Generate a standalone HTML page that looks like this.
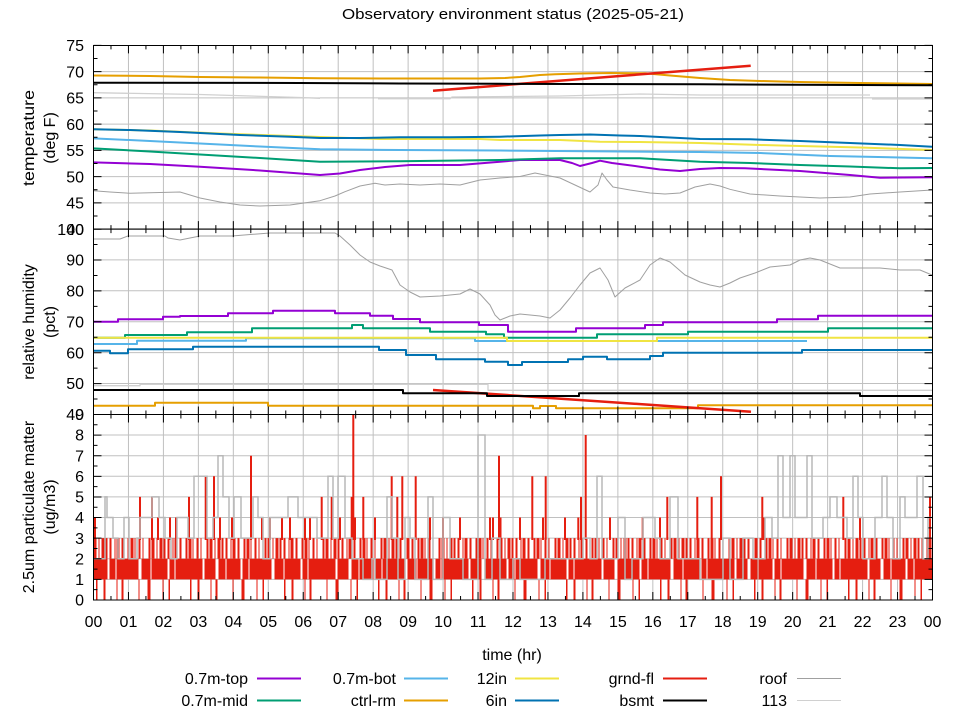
<!DOCTYPE html>
<html>
<head>
<meta charset="utf-8">
<style>
  html,body{margin:0;padding:0;background:#fff;}
  svg{display:block;}
  text{font-family:"Liberation Sans","DejaVu Sans",sans-serif;fill:#000;}
</style>
</head>
<body>
<svg width="960" height="720" viewBox="0 0 960 720" xmlns="http://www.w3.org/2000/svg">
<rect x="0" y="0" width="960" height="720" fill="#fff"/>
<defs>
  <clipPath id="cTop"><rect x="93.5" y="45.4" width="839" height="183.7"/></clipPath>
  <clipPath id="cMid"><rect x="93.5" y="229.1" width="839" height="185.4"/></clipPath>
  <clipPath id="cBot"><rect x="93.5" y="414.5" width="839" height="185.5"/></clipPath>
</defs>

<!-- title -->
<text x="513" y="19" font-size="15" text-anchor="middle" textLength="342" lengthAdjust="spacingAndGlyphs">Observatory environment status (2025-05-21)</text>

<!-- ===== GRID ===== -->
<g stroke="#c0c0c0" fill="none">
  <line x1="127.96" y1="137.25" x2="930" y2="137.25" stroke-width="183.7" stroke-dasharray="1 33.958"/>
  <line x1="127.96" y1="321.8" x2="930" y2="321.8" stroke-width="185.4" stroke-dasharray="1 33.958"/>
  <line x1="127.96" y1="507.25" x2="930" y2="507.25" stroke-width="185.5" stroke-dasharray="1 33.958"/>
  <path stroke-width="1" d="M93.5 71.65H932.5M93.5 97.9H932.5M93.5 124.15H932.5M93.5 150.4H932.5M93.5 176.65H932.5M93.5 202.9H932.5"/>
  <path stroke-width="1" d="M93.5 259.9H932.5M93.5 290.8H932.5M93.5 321.7H932.5M93.5 352.6H932.5M93.5 383.5H932.5"/>
  <path stroke-width="1" d="M93.5 435H932.5M93.5 455.7H932.5M93.5 476.3H932.5M93.5 496.9H932.5M93.5 517.5H932.5M93.5 538.1H932.5M93.5 558.8H932.5M93.5 579.4H932.5"/>
</g>

<!-- ===== TOP PANEL DATA ===== -->
<g clip-path="url(#cTop)" fill="none" stroke-linejoin="round">
  <path stroke="#9400d3" stroke-width="2" d="M93 162.3L150 164L200 166.7L260 170.5L320 175L340 173.5L360 170L385 167L410 165L460 165L500 161.7L520 160L560 160L572 163L580 166L592 163L600 160.7L612 163L640 166.7L660 169.5L680 171L700 169L720 168L745 168.3L800 171L850 175L880 177.7L932 177.3"/>
  <path stroke="#009e73" stroke-width="2" d="M93 148.3L150 151.5L200 154.5L260 158L320 161.7L400 161.3L500 160L560 158.3L640 158.3L700 161.7L750 163L800 165L850 166.5L900 168.3L932 168"/>
  <path stroke="#56b4e9" stroke-width="2" d="M93 138.3L150 141L200 143.5L260 146.5L320 149.3L400 150L500 150.5L650 151.7L700 152L760 153L830 156L900 157.5L932 158.3"/>
  <path stroke="#e69f00" stroke-width="2" d="M93 75.5L150 76L200 77L260 77.5L320 78.3L400 78.5L480 78.5L505 78L520 77L540 75L555 74.3L580 73.5L610 73L645 73.3L670 75.5L700 78L730 80L760 81L800 82L860 83L932 84"/>
  <path stroke="#f0e442" stroke-width="2" d="M93 129.3L150 130.5L220 133.5L320 137L380 139L480 139L500 140L560 140L600 141.7L640 142L700 143L760 145L800 146L860 147.5L932 150"/>
  <path stroke="#0072b2" stroke-width="2" d="M93 129.3L130 130L180 132L240 135L290 136.8L320 138L360 138L400 137.3L450 137.3L500 136.7L540 135.5L560 135L590 134.5L620 135.5L640 136L670 137.5L700 139L750 139.3L800 141L850 143L900 145L932 146.7"/>
  <path stroke="#e51e10" stroke-width="2.5" d="M433 90.7L750.7 65.7"/>
  <path stroke="#000" stroke-width="2" d="M93 82.7L300 83L400 83.5L500 83.8L700 84.3L932 85.3"/>
  <path stroke="#a0a0a0" stroke-width="1" d="M93 190.7L110 192L130 193.3L160 192.5L180 192L200 198L220 202L240 205L260 206L290 205L320 200.7L335 196L345 191.7L360 186L375 183.3L385 185L400 184L420 185L440 184L460 185L480 180L500 178L520 176.5L535 173L550 176L560 178L575 185L590 192L598 185L602 173L607 180L613 187L630 190L650 193L665 194L680 193L695 187L710 184L720 186L730 189.3L750 194L780 196L820 198L850 197L870 194L900 192L932 190"/>
  <path stroke="#d0d0d0" stroke-width="1.3" d="M93 92.7L200 94.5L300 97.5L320 98.3M378 98.7L450 98.7L452 97L560 96L640 94L700 95L870 95M872 99L932 99"/>
</g>

<!-- ===== MIDDLE PANEL DATA ===== -->
<g clip-path="url(#cMid)" fill="none" stroke-linejoin="round">
  <path stroke="#9400d3" stroke-width="2" d="M93 321.7H118V319.3H163V316.7H180V316H228V313.3H273V310.7H335V313.3H370V315.7H393V319H420V322.3H479V325H508V331.7H576V328.3H645V325H663V322.3H777V319.3H818V315.7H932"/>
  <path stroke="#009e73" stroke-width="2" d="M93 337.7H125V335H187V332.3H252V328.3H352V325H363V328.3H430V331.7H486V334.3H504V337.7H597V334.3H688V331.7H828V328.3H932"/>
  <path stroke="#56b4e9" stroke-width="2" d="M93 344H137V340.7H246V338.3H475V341H807"/>
  <path stroke="#e69f00" stroke-width="2" d="M93 405.7H155V402.7H268V405.7H533V408.3H540V406H556V408.3H698V405.3H932"/>
  <path stroke="#f0e442" stroke-width="2" d="M93 337.7H507V341H657V337.7H932"/>
  <path stroke="#0072b2" stroke-width="2" d="M93 350.7H110V353.3H128V349.3H193V346.7H379V350H406V355H436V359.3H485V361.7H508V365H522V362H568V359.3H583V356.7H607V359.3H650V356H663V352.7H802V350H932"/>
  <path stroke="#e51e10" stroke-width="2.5" d="M433 390L751 411.7"/>
  <path stroke="#000" stroke-width="2" d="M93 390H403V393.3H487V396H579V393.3H860V396H932"/>
  <path stroke="#a0a0a0" stroke-width="1" d="M93 239L120 239L128 236L165 236L168 238L180 240L195 237L200 236L232 236L270 233L335 233L340 236L350 245L360 255L370 262L380 266L392 270L400 285L410 292L420 297L440 296L460 294L470 289L480 294L490 305L495 315L500 320L510 316L520 314L540 316L550 318L560 310L570 298L580 285L590 273L600 268L608 280L615 297L625 288L640 280L650 265L660 258L670 262L685 275L700 282L710 285L720 287L730 283L740 278L755 273L770 267L790 265L800 260L810 258L820 260L840 268L880 268L900 270L920 270L932 275"/>
  <path stroke="#d0d0d0" stroke-width="1.3" d="M93 385.7H140V384.3H488V390.3H932"/>
</g>

<!-- ===== BOTTOM PANEL DATA ===== -->
<g clip-path="url(#cBot)" fill="none">
  <line x1="93.5" y1="569.1" x2="932.5" y2="569.1" stroke="#e51e10" stroke-width="20.6" stroke-dasharray="14 2 6 1 22 3 9 1 16 2 5 1 27 2 11 3 7 1"/>
  <line x1="93.5" y1="548.45" x2="932.5" y2="548.45" stroke="#e51e10" stroke-width="20.6" stroke-dasharray="3 2 1 2 3 1 2 2 2 3 1 1 3 2 2 4 2 1 3 1 1 3 2 2 1 5 2 1"/>
  <line x1="96" y1="589.7" x2="932.5" y2="589.7" stroke="#e51e10" stroke-width="20.6" stroke-dasharray="1.5 6 2 11 1 4 2 15 1 8 3 12 1 5 1.5 20"/>
  <path stroke="#e51e10" stroke-width="2" d="M95 540V517.5M140 540V496.9M152 540V496.9M158 540V517.5M170 540V517.5M176 540V517.5M189 540V496.9M205.7 540V476.3M214 540V476.3M220 540V517.5M232 540V517.5M251 540V455.7M262 540V517.5M270 540V517.5M282 540V517.5M290 540V517.5M305 540V517.5M310 540V517.5M321.7 540V496.9M331.7 540V496.9M340 540V517.5M351.7 540V496.9M353.3 540V414.5M355 540V517.5M363.3 540V496.9M375 540V517.5M391.7 540V476.3M397.3 540V496.9M402.3 540V476.3M415.7 540V476.3M430 540V517.5M443 540V517.5M460 540V517.5M490 540V517.5M493 540V517.5M499 540V455.7M500.5 540V517.5M520 540V517.5M532.3 540V476.3M543 540V517.5M545.7 540V476.3M565 540V517.5M578.3 540V517.5M581 540V496.9M585.7 540V435M610 540V517.5M642.7 540V517.5M660 540V517.5M667.3 540V496.9M697.3 540V496.9M711.7 540V496.9M721 540V476.3M762.3 540V496.9M764 540V517.5M843.3 540V496.9M860 540V517.5M930 540V496.9"/>
  <path stroke="#b8b8b8" stroke-width="1.5" d="M93 558.8H105V496.9H107V517.5H113V538.1H118V558.8H124V517.5H129V558.8H137V538.1H140V517.5H152V496.9H159V517.5H165V538.1H171V558.8H177V517.5H188V538.1H194V476.3H207V538.1H213V517.5H218V455.7H223V496.9H229V538.1H234V496.9H241V538.1H253V496.9H258V517.5H263V558.8H270V517.5H288V496.9H298V517.5H317V538.1H328V476.3H333V538.1H338V476.3H345V538.1H352V558.8H363V579.4H372V558.8H375V579.4H387V496.9H392V538.1H398V579.4H405V517.5H410V538.1H415V579.4H428V496.9H433V579.4H443V517.5H450V558.8H463V579.4H478V435H485V579.4H492V538.1H500V579.4H513V558.8H520V579.4H545V558.8H583V538.1H590V558.8H597V476.3H602V558.8H618V517.5H625V579.4H632V558.8H643V517.5H655V538.1H660V558.8H670V496.9H678V558.8H700V579.4H723V538.1H730V579.4H743V538.1H753V558.8H765V517.5H772V538.1H778V455.7H783V517.5H790V455.7H795V517.5H807V455.7H812V538.1H823V517.5H830V496.9H837V517.5H847V538.1H853V476.3H858V517.5H863V558.8H875V517.5H882V476.3H887V517.5H893V558.8H900V496.9H905V517.5H917V476.3H923V558.8H928V517.5H932"/>
</g>

<!-- ===== TICKS ===== -->
<g stroke="#000" fill="none">
  <line x1="93" y1="49.4" x2="933" y2="49.4" stroke-width="8" stroke-dasharray="1 33.958"/>
  <line x1="93" y1="225.1" x2="933" y2="225.1" stroke-width="8" stroke-dasharray="1 33.958"/>
  <line x1="93" y1="233.1" x2="933" y2="233.1" stroke-width="8" stroke-dasharray="1 33.958"/>
  <line x1="93" y1="410.5" x2="933" y2="410.5" stroke-width="8" stroke-dasharray="1 33.958"/>
  <line x1="93" y1="418.5" x2="933" y2="418.5" stroke-width="8" stroke-dasharray="1 33.958"/>
  <line x1="93" y1="596" x2="933" y2="596" stroke-width="8" stroke-dasharray="1 33.958"/>
  <line x1="110.48" y1="47.4" x2="933" y2="47.4" stroke-width="4" stroke-dasharray="1 33.958"/>
  <line x1="110.48" y1="227.1" x2="933" y2="227.1" stroke-width="4" stroke-dasharray="1 33.958"/>
  <line x1="110.48" y1="231.1" x2="933" y2="231.1" stroke-width="4" stroke-dasharray="1 33.958"/>
  <line x1="110.48" y1="412.5" x2="933" y2="412.5" stroke-width="4" stroke-dasharray="1 33.958"/>
  <line x1="110.48" y1="416.5" x2="933" y2="416.5" stroke-width="4" stroke-dasharray="1 33.958"/>
  <line x1="110.48" y1="598" x2="933" y2="598" stroke-width="4" stroke-dasharray="1 33.958"/>
  <line x1="97.5" y1="44.9" x2="97.5" y2="230" stroke-width="8" stroke-dasharray="1 25.25"/>
  <line x1="928.5" y1="44.9" x2="928.5" y2="230" stroke-width="8" stroke-dasharray="1 25.25"/>
  <line x1="95.5" y1="58.03" x2="95.5" y2="229" stroke-width="4" stroke-dasharray="1 25.25"/>
  <line x1="930.5" y1="58.03" x2="930.5" y2="229" stroke-width="4" stroke-dasharray="1 25.25"/>
  <line x1="97.5" y1="228.6" x2="97.5" y2="415" stroke-width="8" stroke-dasharray="1 29.9"/>
  <line x1="928.5" y1="228.6" x2="928.5" y2="415" stroke-width="8" stroke-dasharray="1 29.9"/>
  <line x1="95.5" y1="244.05" x2="95.5" y2="414" stroke-width="4" stroke-dasharray="1 29.9"/>
  <line x1="930.5" y1="244.05" x2="930.5" y2="414" stroke-width="4" stroke-dasharray="1 29.9"/>
  <line x1="97.5" y1="414" x2="97.5" y2="601" stroke-width="8" stroke-dasharray="1 19.61"/>
  <line x1="928.5" y1="414" x2="928.5" y2="601" stroke-width="8" stroke-dasharray="1 19.61"/>
  <line x1="95.5" y1="424.3" x2="95.5" y2="600" stroke-width="4" stroke-dasharray="1 19.61"/>
  <line x1="930.5" y1="424.3" x2="930.5" y2="600" stroke-width="4" stroke-dasharray="1 19.61"/>
  <rect x="93.5" y="45.5" width="839" height="183.6" stroke-width="1"/>
  <rect x="93.5" y="229.1" width="839" height="185.4" stroke-width="1"/>
  <rect x="93.5" y="414.5" width="839" height="185.5" stroke-width="1"/>
</g>

<!-- ===== Y TICK LABELS ===== -->
<g font-size="16" text-anchor="end">
  <text x="84" y="51.1">75</text>
  <text x="84" y="77.3">70</text>
  <text x="84" y="103.6">65</text>
  <text x="84" y="129.8">60</text>
  <text x="84" y="156.1">55</text>
  <text x="84" y="182.3">50</text>
  <text x="84" y="208.6">45</text>
  <text x="84" y="234.8">40</text>
  <text x="84" y="234.8">100</text>
  <text x="84" y="265.6">90</text>
  <text x="84" y="296.5">80</text>
  <text x="84" y="327.4">70</text>
  <text x="84" y="358.3">60</text>
  <text x="84" y="389.2">50</text>
  <text x="84" y="420.2">40</text>
  <text x="84" y="420.2">9</text>
  <text x="84" y="440.7">8</text>
  <text x="84" y="461.4">7</text>
  <text x="84" y="482">6</text>
  <text x="84" y="502.6">5</text>
  <text x="84" y="523.2">4</text>
  <text x="84" y="543.8">3</text>
  <text x="84" y="564.5">2</text>
  <text x="84" y="585.1">1</text>
  <text x="84" y="605.7">0</text>
</g>

<!-- ===== X TICK LABELS ===== -->
<g font-size="16" text-anchor="middle">
  <text x="93.5" y="627">00</text>
  <text x="128.46" y="627">01</text>
  <text x="163.42" y="627">02</text>
  <text x="198.37" y="627">03</text>
  <text x="233.33" y="627">04</text>
  <text x="268.29" y="627">05</text>
  <text x="303.25" y="627">06</text>
  <text x="338.21" y="627">07</text>
  <text x="373.16" y="627">08</text>
  <text x="408.12" y="627">09</text>
  <text x="443.08" y="627">10</text>
  <text x="478.04" y="627">11</text>
  <text x="513" y="627">12</text>
  <text x="547.95" y="627">13</text>
  <text x="582.91" y="627">14</text>
  <text x="617.87" y="627">15</text>
  <text x="652.83" y="627">16</text>
  <text x="687.79" y="627">17</text>
  <text x="722.74" y="627">18</text>
  <text x="757.7" y="627">19</text>
  <text x="792.66" y="627">20</text>
  <text x="827.62" y="627">21</text>
  <text x="862.58" y="627">22</text>
  <text x="897.53" y="627">23</text>
  <text x="932.5" y="627">00</text>
  <text x="512" y="660">time (hr)</text>
</g>

<!-- ===== Y AXIS TITLES ===== -->
<g font-size="16" text-anchor="middle">
  <text transform="translate(34,138) rotate(-90)" textLength="96" lengthAdjust="spacingAndGlyphs">temperature</text>
  <text transform="translate(55,138) rotate(-90)">(deg F)</text>
  <text transform="translate(34,322) rotate(-90)">relative humidity</text>
  <text transform="translate(55,322) rotate(-90)">(pct)</text>
  <text transform="translate(34,507) rotate(-90)">2.5um particulate matter</text>
  <text transform="translate(55,507) rotate(-90)">(ug/m3)</text>
</g>

<!-- ===== LEGEND ===== -->
<g font-size="16" text-anchor="end">
  <text x="248" y="684">0.7m-top</text>
  <text x="248" y="706">0.7m-mid</text>
  <text x="396" y="684">0.7m-bot</text>
  <text x="396" y="706">ctrl-rm</text>
  <text x="507" y="684">12in</text>
  <text x="507" y="706">6in</text>
  <text x="654" y="684">grnd-fl</text>
  <text x="654" y="706">bsmt</text>
  <text x="787" y="684">roof</text>
  <text x="787" y="706">113</text>
</g>
<g fill="none">
  <path stroke="#9400d3" stroke-width="2" d="M257 678.5H301"/>
  <path stroke="#009e73" stroke-width="2" d="M257 700.5H301"/>
  <path stroke="#56b4e9" stroke-width="2" d="M404 678.5H448"/>
  <path stroke="#e69f00" stroke-width="2" d="M404 700.5H448"/>
  <path stroke="#f0e442" stroke-width="2" d="M515 678.5H559"/>
  <path stroke="#0072b2" stroke-width="2" d="M515 700.5H559"/>
  <path stroke="#e51e10" stroke-width="2" d="M663 678.5H707"/>
  <path stroke="#000" stroke-width="2" d="M663 700.5H707"/>
  <path stroke="#a0a0a0" stroke-width="1" d="M797 678.5H841"/>
  <path stroke="#d0d0d0" stroke-width="1" d="M797 700.5H841"/>
</g>
</svg>
</body>
</html>
